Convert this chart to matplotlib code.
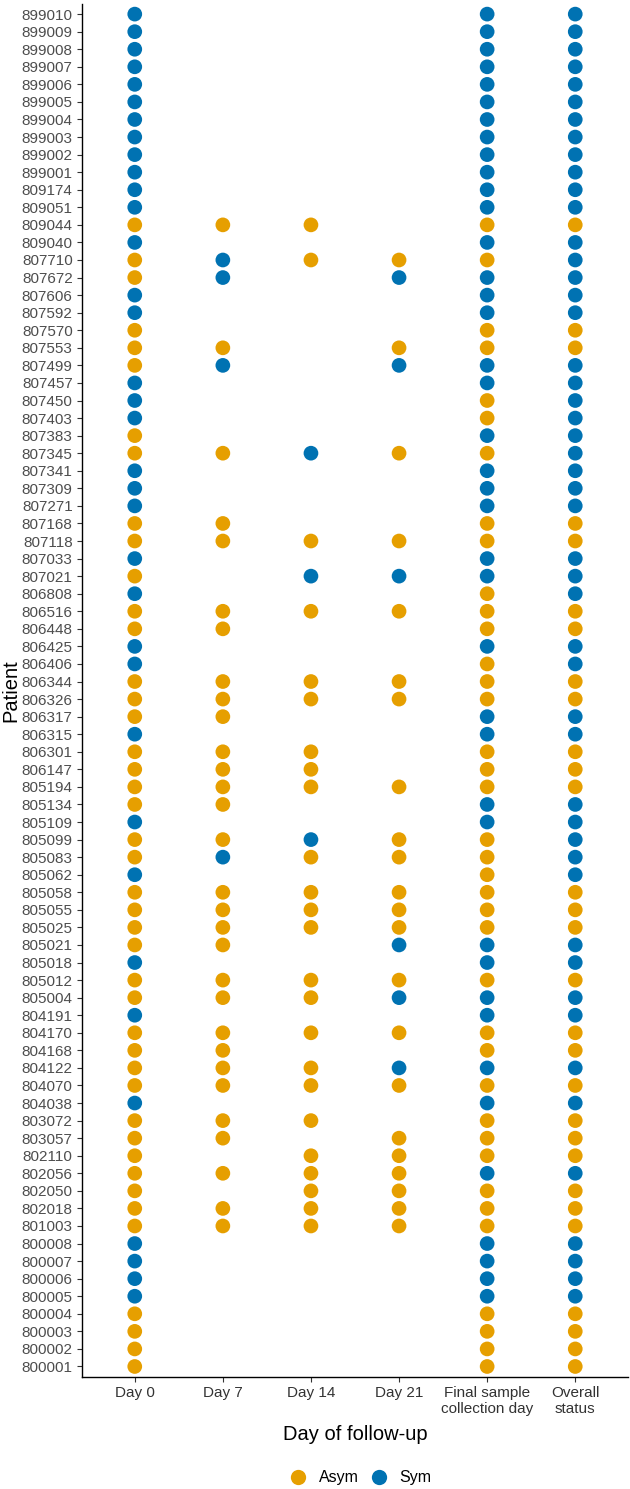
import matplotlib.pyplot as plt
from matplotlib.lines import Line2D

# Patients, top to bottom as shown on the chart
patients = [
    "899010", "899009", "899008", "899007", "899006", "899005", "899004", "899003", "899002", "899001",
    "809174", "809051", "809044", "809040", "807710", "807672", "807606", "807592", "807570", "807553",
    "807499", "807457", "807450", "807403", "807383", "807345", "807341", "807309", "807271", "807168",
    "807118", "807033", "807021", "806808", "806516", "806448", "806425", "806406", "806344", "806326",
    "806317", "806315", "806301", "806147", "805194", "805134", "805109", "805099", "805083", "805062",
    "805058", "805055", "805025", "805021", "805018", "805012", "805004", "804191", "804170", "804168",
    "804122", "804070", "804038", "803072", "803057", "802110", "802056", "802050", "802018", "801003",
    "800008", "800007", "800006", "800005", "800004", "800003", "800002", "800001",
]

columns = ["Day 0", "Day 7", "Day 14", "Day 21", "Final sample\ncollection day", "Overall\nstatus"]

# A = asymptomatic, S = symptomatic, . = no sample (same row order as patients)
day0 = list("SSSSSSSSSS" "SSASAASSAA" "ASSSAASSSA" "ASASAASSAA" "ASAAAASAAS"
            "AAAASAASAA" "AASAAAAAAA" "SSSSAAAA")
day7 = list(".........." "..A.SS...A" "S....A...A" "A...AA..AA" "A.AAAA.AS."
            "AAAA.AA.AA" "AA.AA.A.AA" "........")
day14 = list(".........." "..A.A....." ".....S...." "A.S.A...AA" "..AAA..SA."
             "AAA..AA.A." "AA.A.AAAAA" "........")
day21 = list(".........." "....AS...A" "S....A...." "A.S.A...AA" "....A..AA."
             "AAAS.AS.A." "SA..AAAAAA" "........")
final_day = list("SSSSSSSSSS" "SSASASSSAA" "SSAASASSSA" "ASSAAASAAA" "SSAAASSAAA"
                 "AAASSASSAA" "SASAAASAAA" "SSSSAAAA")
overall = list("SSSSSSSSSS" "SSASSSSSAA" "SSSSSSSSSA" "ASSSAASSAA" "SSAAASSSSS"
               "AAASSASSAA" "SASAAASAAA" "SSSSAAAA")

series = [day0, day7, day14, day21, final_day, overall]
colors = {"A": "#E69F00", "S": "#0072B2"}

plt.rcParams['font.family'] = ['Liberation Sans', 'DejaVu Sans']

fig = plt.figure(figsize=(6.3, 14.89), dpi=100)
ax = fig.add_axes([0.130, 0.0752, 0.867, 0.9224])

n = len(patients)
for j, col in enumerate(series):
    for i, status in enumerate(col):
        if status in colors:
            ax.scatter(j, n - 1 - i, s=112, color=colors[status], edgecolors='none', zorder=3)

ax.set_xlim(-0.6, len(columns) - 0.4)
ax.set_ylim(-0.6, n - 0.4)
ax.set_xticks(range(len(columns)))
ax.set_xticklabels(columns, fontsize=11, color='#333333')
ax.set_yticks(range(n))
ax.set_yticklabels(patients[::-1], fontsize=11, color='#4D4D4D')
ax.tick_params(length=3.6, width=0.8, color='#333333', pad=3)

for side in ['top', 'right']:
    ax.spines[side].set_visible(False)
for side in ['left', 'bottom']:
    ax.spines[side].set_linewidth(1.0)
    ax.spines[side].set_color('black')

ax.set_xlabel("Day of follow-up", fontsize=14.5, labelpad=6)
ax.set_ylabel("Patient", fontsize=14.5, labelpad=1)

# legend keys drawn as dots, like the plot marks
handles = [Line2D([], [], marker='o', linestyle='none', markersize=11,
                  markerfacecolor=colors[k], markeredgecolor='none') for k in ["A", "S"]]
fig.legend(handles, ["Asym", "Sym"], loc='center', bbox_to_anchor=(0.573, 0.0074),
           ncol=2, frameon=False, fontsize=11.5, handletextpad=0.8, columnspacing=0.75,
           handlelength=1.0)

fig.savefig("out.png", dpi=100)
